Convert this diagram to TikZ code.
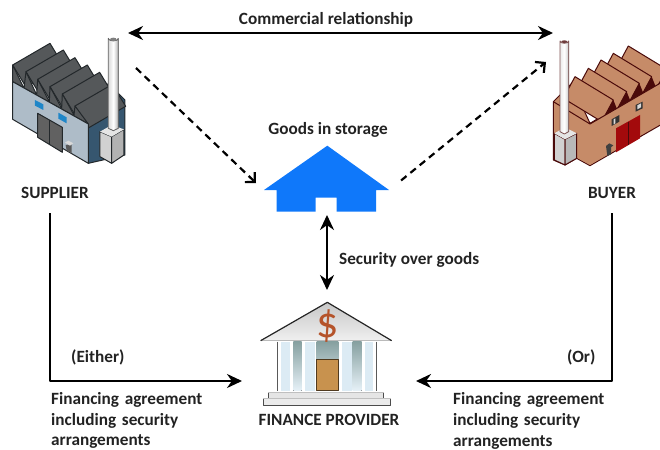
\documentclass[tikz,border=0pt]{standalone}
\usepackage{fontspec}
\setmainfont{Carlito}
\usetikzlibrary{arrows.meta,calc}
\definecolor{txt}{HTML}{222222}
\definecolor{houseblue}{HTML}{0F78FA}
\definecolor{sroof}{HTML}{55585A}
\definecolor{sline}{HTML}{23282B}
\definecolor{swall}{HTML}{AEBCC8}
\definecolor{sside}{HTML}{36566F}
\definecolor{swin}{HTML}{1F86C8}
\definecolor{bwall}{HTML}{C68B68}
\definecolor{bline}{HTML}{4A0A0A}
\definecolor{bdoor}{HTML}{A30A0C}
\definecolor{bankgap}{HTML}{86A0A0}
\definecolor{bankcol}{HTML}{DCEBF4}
\definecolor{bankdoor}{HTML}{C8924E}
\definecolor{dollar}{HTML}{B5532A}
\tikzset{
  lbl/.style={font=\bfseries\fontsize{17.2}{20.6}\selectfont,text=txt,inner sep=0pt},
  lblleft/.style={lbl,anchor=west,align=left},
  hit/.style={inner sep=0pt,outer sep=0pt,minimum width=#1},
  conn/.style={line width=2.4pt,-{Stealth[length=15pt,width=14pt]},black},
  conntwo/.style={line width=2.4pt,{Stealth[length=15pt,width=14pt]}-{Stealth[length=15pt,width=14pt]},black},
  dash conn/.style={line width=2.2pt,dash pattern=on 7pt off 5pt,-{Straight Barb[length=7pt,width=14pt]},black},
  pipe/.style={draw=#1,line width=1pt,line join=round},
}
\begin{document}
\begin{tikzpicture}[x=1pt,y=-1pt,line join=round]
\useasboundingbox (0,0) rectangle (660,449);

% ---------- supplier factory
\begin{scope}[shift={(0,20)},x=.3333pt,y=-.3333pt]
  \fill[pipe=sline,fill=sside] (265,312) -- (325,190) -- (375,240) -- (375,405) -- (265,430) -- cycle;
  \foreach \px/\py in {38/135,78/155,113/178,150/200,187/222,225/258}{
    \fill[pipe=sline,fill=sroof] (\px,\py) -- ++(112,-65) -- ++(40,66) -- ++(-112,65) -- cycle;
  }
  \fill[sroof,draw=sline,line width=1pt] (38,135) -- (38,185) -- (265,312) -- (225,258) -- (222,285) -- (187,222) -- (185,265) -- (150,200) -- (148,245) -- (113,178) -- (110,225) -- (78,155) -- (72,205) -- cycle;
  \fill[pipe=sline,fill=swall] (38,185) -- (265,312) -- (265,430) -- (38,298) -- cycle;
  \fill[swin] (105,240) -- (130,253) -- (130,270) -- (105,257) -- cycle;
  \fill[swin] (175,278) -- (200,292) -- (200,310) -- (175,296) -- cycle;
  \fill[pipe=sline,fill=black!62] (113,280) -- (187,322) -- (187,397) -- (113,352) -- cycle;
  \draw[sline,line width=1pt] (150,301) -- (150,375);
  \fill[black!65] (197,375) -- (215,372) -- (215,400) -- (200,392) -- cycle;
  \fill[black!15] (195,368) -- (205,362) -- (220,370) -- (210,377) -- cycle;
  \fill[pipe=sline,fill=black!18] (300,335) -- (335,350) -- (335,430) -- (300,410) -- cycle;
  \fill[pipe=sline,fill=black!30] (335,350) -- (372,328) -- (372,405) -- (335,430) -- cycle;
  \fill[black!10] (300,335) -- (335,315) -- (372,328) -- (335,350) -- cycle;
  \fill[left color=black!15,right color=black!30,middle color=white,draw=black!60,line width=.8pt] (325,325) -- (325,55) arc (180:0:15 and 8) -- (355,325) -- (340,332) -- cycle;
  \fill[black!50] (340,58) ellipse (10 and 5);
\end{scope}

% ---------- buyer factory
\begin{scope}[shift={(530,20)},x=.3333pt,y=-.3333pt]
  \clip (0,0) rectangle (390,560);
  \fill[pipe=bline,fill=bwall] (70,245) -- (70,420) -- (105,435) -- (140,415) -- (180,437) -- (400,310) -- (400,180) -- (180,310) -- (125,190) -- cycle;
  \foreach \bx/\by in {295/78,250/100,213/120,175/145,135/170}{
    \fill[pipe=bline,fill=bwall] (\bx,\by) -- ++(115,70) -- ++(-35,65) -- ++(-115,-70) -- cycle;
    \fill[bline] (\bx,\by) ++(115,70) -- ++(-35,65) -- ++(50,-28) -- cycle;
  }
  \fill[bwall] (72,248) -- (72,418) -- (105,433) -- (140,413) -- (180,435) -- (390,312) -- (390,190) -- (180,312) -- cycle;
  \draw[bline,line width=1pt] (70,245) -- (180,312) -- (390,190);
  \fill[bdoor] (258,325) -- (330,285) -- (330,355) -- (258,397) -- cycle;
  \draw[bline,line width=1pt] (295,305) -- (295,376);
  \fill[black!80] (245,298) -- (268,285) -- (268,305) -- (245,318) -- cycle;
  \fill[black!15] (251,298) -- (256,295) -- (256,310) -- (251,313) -- cycle;
  \fill[black!80] (317,255) -- (338,245) -- (338,265) -- (317,275) -- cycle;
  \fill[black!15] (322,256) -- (333,250) -- (333,262) -- (322,268) -- cycle;
  \fill[black!75] (228,378) -- (238,370) -- (250,376) -- (243,382) -- (243,403) -- (232,408) -- cycle;
  \fill[pipe=bline,fill=black!18] (73,340) -- (105,358) -- (105,435) -- (73,420) -- cycle;
  \fill[pipe=bline,fill=black!28] (105,358) -- (140,340) -- (140,415) -- (105,435) -- cycle;
  \fill[black!10] (73,340) -- (105,322) -- (140,340) -- (105,358) -- cycle;
  \fill[left color=black!8,right color=black!22,middle color=white,draw=bline!70,line width=.8pt] (90,335) -- (90,63) arc (180:0:13 and 7) -- (116,335) -- (103,342) -- cycle;
  \fill[bline!80] (103,65) ellipse (9 and 4);
\end{scope}

% ---------- bank
\begin{scope}[shift={(240,290)},x=.3333pt,y=-.3333pt]
  \fill[white] (113,155) rectangle (410,305);
  \foreach \a/\b in {160/185,338/365,230/295}{
    \fill[top color=bankgap,bottom color=bankcol!70] (\a,155) rectangle (\b,302);
  }
  \foreach \a/\b in {122/150,195/225,305/335,375/400}{
    \fill[bankcol] (\a,155) rectangle (\b,302);
  }
  \draw[black!65,line width=1pt] (113,155) -- (113,302) (410,155) -- (410,302);
  \fill[bankdoor,draw=black!60!bankdoor,line width=.8pt] (230,207) rectangle (295,302);
  \fill[top color=black!22,bottom color=black!6] (62,152) -- (262,37) -- (455,152) -- cycle;
  \draw[black!85,line width=1.2pt] (62,152) -- (262,37) -- (455,152);
  \fill[black!10] (85,308) rectangle (432,325);
  \fill[black!8] (70,325) rectangle (452,347);
  \draw[black!70,line width=1pt] (85,325) -- (85,308) (432,308) -- (432,325) (70,325) -- (70,347) -- (452,347) -- (452,325);
  \draw[black!25,line width=.8pt] (85,308) -- (432,308) (70,325) -- (452,325);
  \node[font=\fontsize{44}{44}\selectfont,text=dollar,inner sep=0pt] (dollarsign) at (264,107) {\$};
\end{scope}

% ---------- goods in storage
\fill[houseblue] (264,190) -- (327.3,145.7) -- (389,190) -- (376,190) -- (376,211.7) -- (336.7,211.7) -- (336.7,197.7) -- (315.7,197.7) -- (315.7,211.7) -- (276.7,211.7) -- (276.7,190) -- cycle;

% ---------- reference boxes for the icons (invisible)
\node[hit=118pt,minimum height=132pt] (supplier) at (69,99) {};
\node[hit=107pt,minimum height=132pt] (buyer) at (606.5,99) {};
\node[hit=142pt,minimum height=58pt] (house) at (327,183) {};
\node[hit=174pt,minimum height=120pt] (bank) at (329,350) {};
\coordinate (house foot) at (327,215);
\coordinate (supplier tail) at (136,68);
\coordinate (buyer head) at (546,62);
\coordinate (supplier foot) at (50,213);
\coordinate (buyer foot) at (612,213);
\coordinate (left corner) at (50,381);
\coordinate (right corner) at (612,381);

% ---------- labels
\node[lbl] (commercial) at (326,20) {Commercial relationship};
\node[lbl] (suplabel) at (55,193) {SUPPLIER};
\node[lbl] (buylabel) at (612,193) {BUYER};
\node[lbl] (goodslabel) at (328,130) {Goods in storage};
\node[lblleft] (securitylabel) at (339,260) {Security over goods};
\node[lbl] (finlabel) at (329,420) {FINANCE PROVIDER};
\node[lblleft] (eitherlabel) at (71,357) {(Either)};
\node[lblleft] (orlabel) at (567,357) {(Or)};
\node[lblleft,text width=170pt] (agreeL) at (51,420.5) {Financing agreement\\including security\\arrangements};
\node[lblleft,text width=170pt] (agreeR) at (453,421) {Financing agreement\\including security\\arrangements};

% ---------- connectors
\draw[conntwo] (supplier.north east) -- (buyer.north west);
\draw[dash conn] (supplier tail) -- (house.west);
\draw[dash conn,shorten <=4pt] (house.east) -- (buyer head);
\draw[conntwo] (house foot) -- (house foot |- bank.north);
\draw[conn] (supplier foot) -- (left corner) -- (left corner -| bank.west);
\draw[conn] (buyer foot) -- (right corner) -- (right corner -| bank.east);
\end{tikzpicture}
\end{document}
